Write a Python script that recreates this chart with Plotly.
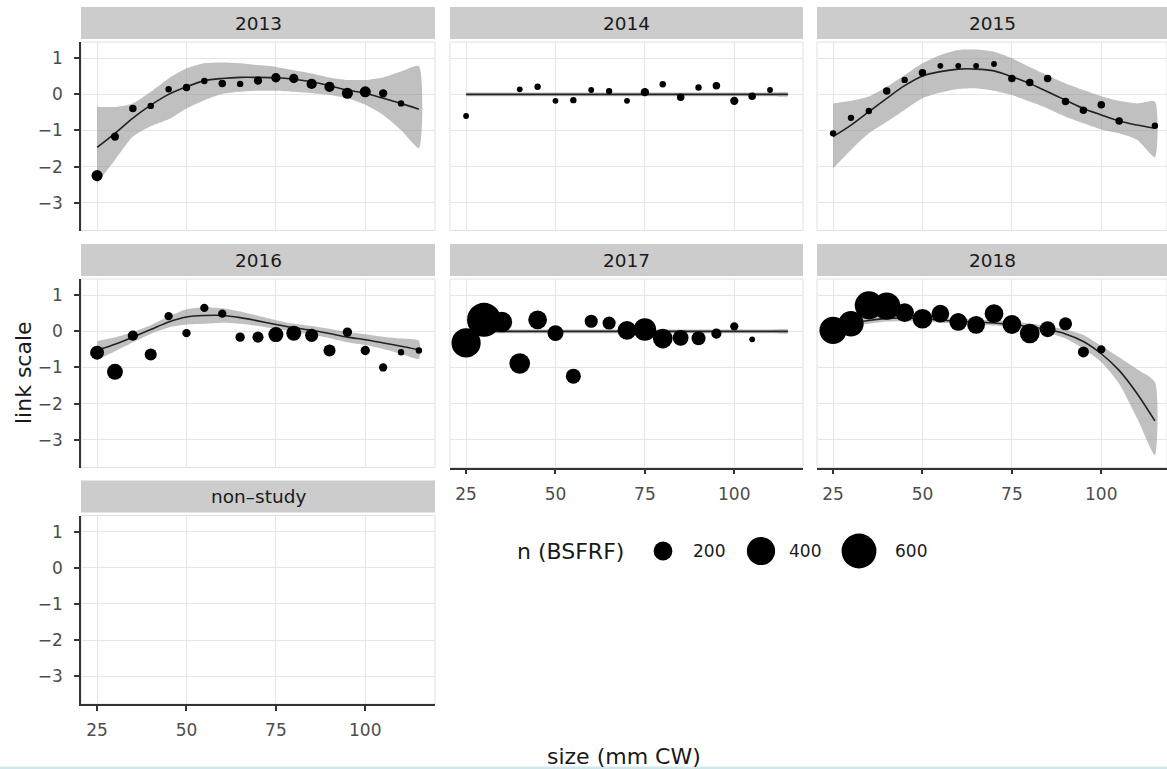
import numpy as np
import plotly.graph_objects as go

W, H = 1167, 769

# ---------------- data ----------------
smooth_x = [25, 30, 35, 40, 45, 50, 55, 60, 65, 70, 75, 80, 85, 90, 95, 100, 105, 110, 115]

x_2013 = [25, 30, 35, 40, 45, 50, 55, 60, 65, 70, 75, 80, 85, 90, 95, 100, 105, 110]
y_2013 = [-2.25, -1.17, -0.39, -0.32, 0.14, 0.19, 0.37, 0.30, 0.29, 0.38, 0.46, 0.44, 0.29, 0.21, 0.03, 0.07, 0.03, -0.25]
n_2013 = [111, 95, 92, 89, 89, 92, 89, 92, 89, 95, 100, 100, 105, 105, 111, 111, 95, 89]
fit_2013 = [-1.47, -1.08, -0.66, -0.30, 0.0, 0.21, 0.38, 0.44, 0.47, 0.47, 0.46, 0.42, 0.35, 0.24, 0.12, 0.03, -0.11, -0.25, -0.41]
lo_2013 = [-2.46, -1.82, -1.17, -0.88, -0.69, -0.39, -0.16, 0.01, 0.07, 0.10, 0.10, 0.07, 0.03, -0.02, -0.11, -0.29, -0.57, -0.99, -1.49]
hi_2013 = [-0.34, -0.35, -0.25, 0.07, 0.44, 0.72, 0.86, 0.88, 0.86, 0.81, 0.76, 0.67, 0.58, 0.47, 0.40, 0.40, 0.47, 0.63, 0.78]

x_2014 = [25, 40, 45, 50, 55, 60, 65, 70, 75, 80, 85, 90, 95, 100, 105, 110]
y_2014 = [-0.60, 0.14, 0.21, -0.18, -0.16, 0.12, 0.09, -0.18, 0.06, 0.28, -0.08, 0.19, 0.24, -0.18, -0.05, 0.12]
n_2014 = [88, 88, 89, 88, 89, 88, 89, 88, 95, 89, 92, 89, 92, 95, 92, 88]
fit_2014 = [0.0] * 19
lo_2014 = [-0.05] * 19
hi_2014 = [0.05] * 19

x_2015 = [25, 30, 35, 40, 45, 50, 55, 60, 65, 70, 75, 80, 85, 90, 95, 100, 105, 115]
y_2015 = [-1.08, -0.65, -0.46, 0.09, 0.40, 0.60, 0.79, 0.79, 0.79, 0.84, 0.44, 0.33, 0.44, -0.20, -0.44, -0.29, -0.74, -0.87]
n_2015 = [89, 89, 89, 92, 89, 92, 88, 88, 88, 88, 92, 92, 92, 92, 92, 92, 92, 89]
fit_2015 = [-1.17, -0.85, -0.48, -0.11, 0.24, 0.51, 0.63, 0.70, 0.70, 0.65, 0.49, 0.30, 0.07, -0.16, -0.39, -0.57, -0.74, -0.85, -0.94]
lo_2015 = [-2.05, -1.54, -1.08, -0.76, -0.43, -0.11, 0.05, 0.15, 0.17, 0.10, -0.02, -0.20, -0.39, -0.62, -0.80, -0.97, -1.08, -1.26, -1.74]
hi_2015 = [-0.25, -0.18, -0.06, 0.21, 0.53, 0.86, 1.09, 1.23, 1.24, 1.18, 1.00, 0.76, 0.53, 0.30, 0.12, -0.05, -0.18, -0.25, -0.20]

x_2016 = [25, 30, 35, 40, 45, 50, 55, 60, 65, 70, 75, 80, 85, 90, 95, 100, 105, 110, 115]
y_2016 = [-0.59, -1.12, -0.12, -0.64, 0.42, -0.05, 0.65, 0.49, -0.16, -0.16, -0.09, -0.05, -0.11, -0.53, -0.02, -0.53, -1.00, -0.58, -0.53]
n_2016 = [137, 159, 105, 119, 95, 95, 95, 95, 100, 111, 148, 148, 128, 119, 100, 100, 95, 89, 89]
fit_2016 = [-0.53, -0.36, -0.16, 0.05, 0.26, 0.40, 0.44, 0.44, 0.38, 0.29, 0.19, 0.10, 0.03, -0.06, -0.16, -0.23, -0.32, -0.41, -0.51]
lo_2016 = [-0.79, -0.55, -0.30, -0.07, 0.11, 0.19, 0.21, 0.24, 0.21, 0.15, 0.07, -0.01, -0.09, -0.19, -0.30, -0.38, -0.49, -0.62, -0.76]
hi_2016 = [-0.27, -0.17, -0.02, 0.17, 0.41, 0.61, 0.67, 0.64, 0.55, 0.43, 0.31, 0.21, 0.15, 0.07, -0.02, -0.08, -0.15, -0.20, -0.26]

x_2017 = [25, 30, 35, 40, 45, 50, 55, 60, 65, 70, 75, 80, 85, 90, 95, 100, 105]
y_2017 = [-0.32, 0.32, 0.26, -0.89, 0.32, -0.05, -1.24, 0.28, 0.23, 0.03, 0.05, -0.20, -0.18, -0.19, -0.06, 0.14, -0.22]
n_2017 = [425, 567, 232, 232, 200, 159, 148, 128, 128, 200, 268, 215, 159, 137, 105, 95, 88]
fit_2017 = [0.0] * 19
lo_2017 = [-0.05] * 19
hi_2017 = [0.05] * 19

x_2018 = [25, 30, 35, 40, 45, 50, 55, 60, 65, 70, 75, 80, 85, 90, 95, 100]
y_2018 = [0.03, 0.21, 0.72, 0.70, 0.52, 0.35, 0.49, 0.26, 0.18, 0.49, 0.19, -0.06, 0.06, 0.21, -0.57, -0.50]
n_2018 = [375, 329, 400, 375, 200, 215, 185, 185, 185, 200, 200, 215, 159, 128, 111, 95]
fit_2018 = [0.10, 0.22, 0.30, 0.36, 0.37, 0.35, 0.31, 0.28, 0.26, 0.23, 0.19, 0.13, 0.05, -0.07, -0.28, -0.62, -1.08, -1.72, -2.48]
lo_2018 = [-0.02, 0.12, 0.21, 0.27, 0.28, 0.27, 0.24, 0.21, 0.19, 0.16, 0.11, 0.04, -0.04, -0.20, -0.48, -0.85, -1.45, -2.40, -3.43]
hi_2018 = [0.22, 0.32, 0.39, 0.45, 0.46, 0.43, 0.38, 0.35, 0.33, 0.30, 0.27, 0.22, 0.15, 0.05, -0.10, -0.40, -0.72, -1.05, -1.40]

facet_labels = ["2013", "2014", "2015", "2016", "2017", "2018", "non\u2013study"]
x_ticks = [25, 50, 75, 100]
y_ticks = [-3, -2, -1, 0, 1]
legend_n = [200, 400, 600]
legend_labels = ["200", "400", "600"]

# ---------------- helpers ----------------
FONT = "DejaVu Sans"


def size_px(n):
    n = np.asarray(n, dtype=float)
    return 4.5 + np.sqrt(1.8 * np.clip(n - 87, 0, None))


col_px = [(81, 435), (450, 803), (817, 1167)]
row_px = [(42, 230.5), (279, 467.5), (515.5, 704)]
px_per_unit = 354 / 99.0
x_ranges = [[20.5, 20.5 + (c[1] - c[0]) / px_per_unit] for c in col_px]
y_range = [-3.77, 1.45]

panels = [
    (x_2013, y_2013, n_2013, fit_2013, lo_2013, hi_2013),
    (x_2014, y_2014, n_2014, fit_2014, lo_2014, hi_2014),
    (x_2015, y_2015, n_2015, fit_2015, lo_2015, hi_2015),
    (x_2016, y_2016, n_2016, fit_2016, lo_2016, hi_2016),
    (x_2017, y_2017, n_2017, fit_2017, lo_2017, hi_2017),
    (x_2018, y_2018, n_2018, fit_2018, lo_2018, hi_2018),
    None,
]
bottom_panels = {4, 5, 6}

fig = go.Figure()
shapes = []
annotations = []

for i in range(7):
    r, c = divmod(i, 3)
    k = i + 1
    xa = "x" if k == 1 else f"x{k}"
    ya = "y" if k == 1 else f"y{k}"
    xdom = [col_px[c][0] / W, col_px[c][1] / W]
    ydom = [1 - row_px[r][1] / H, 1 - row_px[r][0] / H]
    bottom = i in bottom_panels
    left = c == 0
    tickfont = dict(family=FONT, size=17, color="#4D4D4D")
    fig.layout[f"xaxis{'' if k == 1 else k}"] = dict(
        domain=xdom, range=x_ranges[c], anchor=ya, tickvals=x_ticks,
        showgrid=True, gridcolor="#E6E6E6", gridwidth=1.3, zeroline=False,
        showline=bottom, linecolor="#333333", linewidth=1.5,
        ticks="outside" if bottom else "", ticklen=5, tickwidth=1.5, tickcolor="#333333",
        showticklabels=bottom, tickfont=tickfont, ticklabelstandoff=5,
    )
    fig.layout[f"yaxis{'' if k == 1 else k}"] = dict(
        domain=ydom, range=y_range, anchor=xa, tickvals=y_ticks,
        showgrid=True, gridcolor="#E6E6E6", gridwidth=1.3, zeroline=False,
        showline=left, linecolor="#333333", linewidth=1.5,
        ticks="outside" if left else "", ticklen=5, tickwidth=1.5, tickcolor="#333333",
        showticklabels=left, tickfont=tickfont, ticklabelstandoff=8,
    )
    # panel border
    shapes.append(dict(type="rect", xref="paper", yref="paper",
                       x0=xdom[0], x1=xdom[1], y0=ydom[0], y1=ydom[1],
                       line=dict(color="#E0E0E0", width=1), fillcolor="rgba(0,0,0,0)", layer="below"))
    # strip
    s_top = row_px[r][0] - 35
    s_bot = row_px[r][0] - 3
    shapes.append(dict(type="rect", xref="paper", yref="paper",
                       x0=xdom[0], x1=xdom[1], y0=1 - s_bot / H, y1=1 - s_top / H,
                       line=dict(width=0), fillcolor="#CCCCCC", layer="below"))
    annotations.append(dict(text=facet_labels[i], xref="paper", yref="paper",
                            x=(xdom[0] + xdom[1]) / 2, y=1 - (s_top + s_bot) / 2 / H,
                            xanchor="center", yanchor="middle", showarrow=False,
                            font=dict(family=FONT, size=18.5, color="#1A1A1A")))

    if panels[i] is None:
        # empty facet: an empty trace so that the subplot and its axes are drawn
        fig.add_trace(go.Scatter(x=[], y=[], xaxis=xa, yaxis=ya, mode="markers"))
        continue
    px_, py_, pn_, fit, lo, hi = panels[i]
    fig.add_trace(go.Scatter(
        x=smooth_x + smooth_x[::-1], y=hi + lo[::-1], xaxis=xa, yaxis=ya,
        mode="lines", fill="toself", fillcolor="rgba(140,140,140,0.55)",
        line=dict(width=0, shape="spline", smoothing=0.6), hoverinfo="skip"))
    fig.add_trace(go.Scatter(
        x=smooth_x, y=fit, xaxis=xa, yaxis=ya, mode="lines",
        line=dict(color="#222222", width=1.6, shape="spline", smoothing=0.8)))
    fig.add_trace(go.Scatter(
        x=px_, y=py_, xaxis=xa, yaxis=ya, mode="markers",
        marker=dict(color="#000000", size=size_px(pn_), line=dict(width=0), opacity=1)))

# ------------- manual size legend -------------
fig.layout["xaxis8"] = dict(domain=[600 / W, 940 / W], range=[-0.6429, 2.8265], anchor="y8",
                            visible=False, fixedrange=True)
fig.layout["yaxis8"] = dict(domain=[1 - 575 / H, 1 - 527 / H], range=[-1, 1], anchor="x8",
                            visible=False, fixedrange=True)
fig.add_trace(go.Scatter(x=list(range(len(legend_n))), y=[0] * len(legend_n), xaxis="x8", yaxis="y8",
                         mode="markers", cliponaxis=False,
                         marker=dict(color="#000000", size=size_px(legend_n), line=dict(width=0), opacity=1)))
label_offsets = [0.286, 0.265, 0.347]
for j, lab in enumerate(legend_labels):
    annotations.append(dict(text=lab, xref="x8", yref="y8", x=j + label_offsets[j], y=0,
                            xanchor="left", yanchor="middle", showarrow=False,
                            font=dict(family=FONT, size=17, color="#1A1A1A")))
annotations.append(dict(text="n (BSFRF)", xref="paper", yref="paper", x=515 / W, y=1 - 551 / H,
                        xanchor="left", yanchor="middle", showarrow=False,
                        font=dict(family=FONT, size=22, color="#1A1A1A")))

# axis titles
annotations.append(dict(text="size (mm CW)", xref="paper", yref="paper", x=624 / W, y=1 - 756 / H,
                        xanchor="center", yanchor="middle", showarrow=False,
                        font=dict(family=FONT, size=22, color="#1A1A1A")))
annotations.append(dict(text="link scale", xref="paper", yref="paper", x=23 / W, y=1 - 373 / H,
                        xanchor="center", yanchor="middle", showarrow=False, textangle=-90,
                        font=dict(family=FONT, size=22, color="#1A1A1A")))

# bottom frame line of the image
shapes.append(dict(type="rect", xref="paper", yref="paper", x0=0, x1=1, y0=0, y1=2.5 / H,
                   line=dict(width=0), fillcolor="#CFE8EB", layer="above"))

fig.update_layout(
    width=W, height=H, margin=dict(l=0, r=0, t=0, b=0),
    paper_bgcolor="white", plot_bgcolor="white", showlegend=False,
    font=dict(family=FONT), shapes=shapes, annotations=annotations,
)

fig.write_html("out.html")
